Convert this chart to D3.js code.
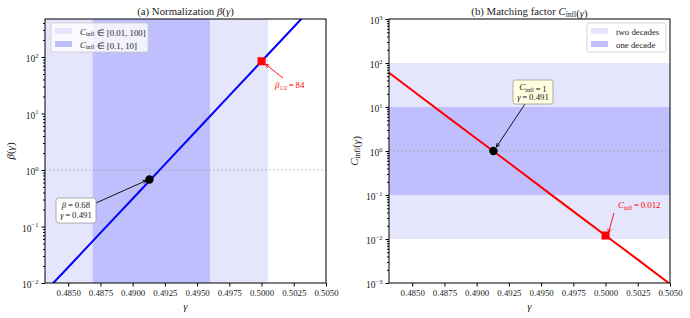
<!DOCTYPE html>
<html>
<head>
<meta charset="utf-8">
<script src="https://cdn.jsdelivr.net/npm/d3@7"></script>
<style>
  body { margin: 0; background: #fff; }
  svg, svg text, svg tspan { font-family: "Liberation Serif", "Times New Roman", serif !important; }
  svg text { fill: #222; }
</style>
</head>
<body>
<div id="chart"></div>
<script>
// data
var gammaGrid = [0.4832, 0.4850, 0.4875, 0.4900, 0.4925, 0.4950, 0.4975, 0.5000, 0.5025, 0.5050];
var betaVals  = [0.0070, 0.019, 0.077, 0.31, 1.26, 5.1, 20.7, 84, 340, 1380];
var cinflVals = [60, 24, 6.7, 1.9, 0.54, 0.151, 0.0425, 0.012, 0.0034, 0.00095];

var xTicks = [0.4850, 0.4875, 0.4900, 0.4925, 0.4950, 0.4975, 0.5000, 0.5025, 0.5050];
var betaTicks = [-2, -1, 0, 1, 2];
var cinflTicks = [-3, -2, -1, 0, 1, 2, 3];

var matchGamma = 0.4913, matchBeta = 0.68, matchC = 1;
var halfGamma = 0.5, halfBeta = 84, halfC = 0.012;

// gamma ranges where C_infl stays in [0.01,100] and [0.1,10]
var bandWide = [0.4820, 0.5005];
var bandNarrow = [0.4869, 0.4960];
// C_infl bands (right panel)
var cBandWide = [0.01, 100];
var cBandNarrow = [0.1, 10];

var lightBand = "#e5e5fb", darkBand = "#bfbffd";

var W = 690, H = 318;
var svg = d3.select("#chart").append("svg").attr("width", W).attr("height", H)
  .attr("font-family", "Liberation Serif, serif");
var defs = svg.append("defs");

var plotTop = 19, plotBottom = 283;
var gDomain = [0.4832, 0.5050];
var fs = 8.8; // small text size

function supLabel(sel, exp) {
  sel.text("");
  sel.append("tspan").text("10");
  sel.append("tspan").attr("dy", -4.5).style("font-size", "6.5px").text(exp < 0 ? "\u2212" + (-exp) : exp);
}

function drawPanel(opts) {
  var g = svg.append("g");
  var x = d3.scaleLinear().domain(gDomain).range([opts.left, opts.right]);
  var y = d3.scaleLog().domain(opts.yDomain).range([plotBottom, plotTop]);

  var clipId = "clip" + opts.id;
  defs.append("clipPath").attr("id", clipId).append("rect")
    .attr("x", opts.left).attr("y", plotTop)
    .attr("width", opts.right - opts.left).attr("height", plotBottom - plotTop);
  var plot = g.append("g").attr("clip-path", "url(#" + clipId + ")");

  opts.bands(plot, x, y);

  // reference line at 1
  plot.append("line")
    .attr("x1", opts.left).attr("x2", opts.right)
    .attr("y1", y(1)).attr("y2", y(1))
    .style("stroke", "#999").style("stroke-width", 0.8)
    .style("stroke-dasharray", "2,2").style("opacity", 0.7);

  var line = d3.line().x(function(d) { return x(d[0]); }).y(function(d) { return y(d[1]); });
  plot.append("path")
    .datum(d3.zip(gammaGrid, opts.values))
    .attr("d", line)
    .style("fill", "none").style("stroke", opts.color).style("stroke-width", 2);

  // axes
  var xAxis = d3.axisBottom(x).tickValues(xTicks).tickFormat(d3.format(".4f")).tickSize(3.5).tickPadding(3);
  var xa = g.append("g").attr("transform", "translate(0," + plotBottom + ")").call(xAxis)
    .attr("font-family", null).attr("font-size", null);
  xa.select(".domain").remove();
  xa.selectAll("text").style("font-size", fs + "px");

  var minor = [];
  var e0 = Math.round(Math.log10(opts.yDomain[0])), e1 = Math.ceil(Math.log10(opts.yDomain[1]));
  for (var e = e0; e < e1; e++) {
    for (var k = 2; k <= 9; k++) {
      var v = k * Math.pow(10, e);
      if (v <= opts.yDomain[1]) minor.push(v);
    }
  }
  var ya2 = g.append("g").attr("transform", "translate(" + opts.left + ",0)")
    .call(d3.axisLeft(y).tickValues(minor).tickFormat("").tickSize(2));
  ya2.select(".domain").remove();

  var ya = g.append("g").attr("transform", "translate(" + opts.left + ",0)")
    .call(d3.axisLeft(y).tickValues(opts.yTicks.map(function(p) { return Math.pow(10, p); })).tickSize(3.5).tickPadding(3))
    .attr("font-family", null).attr("font-size", null);
  ya.select(".domain").remove();
  ya.selectAll("text").style("font-size", "9.5px").attr("dy", "0.5em")
    .each(function(d) { supLabel(d3.select(this), Math.round(Math.log10(d))); });

  g.append("rect")
    .attr("x", opts.left).attr("y", plotTop)
    .attr("width", opts.right - opts.left).attr("height", plotBottom - plotTop)
    .style("fill", "none").style("stroke", "#000").style("stroke-width", 1);

  // titles and labels
  var title = g.append("text").attr("x", (opts.left + opts.right) / 2).attr("y", 15)
    .style("text-anchor", "middle").style("font-size", "10.8px");
  opts.title(title);

  g.append("text").attr("x", (opts.left + opts.right) / 2).attr("y", 310)
    .style("text-anchor", "middle").style("font-size", "11px").style("font-style", "italic").text("\u03b3");

  var yl = g.append("text")
    .attr("transform", "translate(" + opts.ylabelX + "," + ((plotTop + plotBottom) / 2) + ") rotate(-90)")
    .style("text-anchor", "middle").style("font-size", "11px");
  opts.ylabel(yl);

  return { g: g, x: x, y: y };
}

function cinflText(sel, size) {
  sel.append("tspan").style("font-style", "italic").text("C");
  sel.append("tspan").attr("dy", 1.5).style("font-size", (size * 0.7) + "px").text("infl");
  sel.append("tspan").attr("dy", -1.5).text("");
}

// ---------- Panel (a) ----------
var pa = drawPanel({
  id: "a", left: 45, right: 326, yDomain: [0.01, 470],
  yTicks: betaTicks, values: betaVals, color: "#0000ff", ylabelX: 14,
  bands: function(plot, x, y) {
    plot.append("rect").attr("x", x(bandWide[0])).attr("y", plotTop)
      .attr("width", x(bandWide[1]) - x(bandWide[0])).attr("height", plotBottom - plotTop).style("fill", lightBand);
    plot.append("rect").attr("x", x(bandNarrow[0])).attr("y", plotTop)
      .attr("width", x(bandNarrow[1]) - x(bandNarrow[0])).attr("height", plotBottom - plotTop).style("fill", darkBand);
  },
  title: function(t) {
    t.append("tspan").text("(a) Normalization ");
    t.append("tspan").style("font-style", "italic").text("\u03b2");
    t.append("tspan").text("(");
    t.append("tspan").style("font-style", "italic").text("\u03b3");
    t.append("tspan").text(")");
  },
  ylabel: function(t) {
    t.append("tspan").style("font-style", "italic").text("\u03b2");
    t.append("tspan").text("(");
    t.append("tspan").style("font-style", "italic").text("\u03b3");
    t.append("tspan").text(")");
  }
});

// ---------- Panel (b) ----------
var pb = drawPanel({
  id: "b", left: 389, right: 670, yDomain: [0.001, 1000],
  yTicks: cinflTicks, values: cinflVals, color: "#ff0000", ylabelX: 358,
  bands: function(plot, x, y) {
    plot.append("rect").attr("x", 389).attr("y", y(cBandWide[1]))
      .attr("width", 281).attr("height", y(cBandWide[0]) - y(cBandWide[1])).style("fill", lightBand);
    plot.append("rect").attr("x", 389).attr("y", y(cBandNarrow[1]))
      .attr("width", 281).attr("height", y(cBandNarrow[0]) - y(cBandNarrow[1])).style("fill", darkBand);
  },
  title: function(t) {
    t.append("tspan").text("(b) Matching factor ");
    cinflText(t, 10.8);
    t.append("tspan").text("(");
    t.append("tspan").style("font-style", "italic").text("\u03b3");
    t.append("tspan").text(")");
  },
  ylabel: function(t) {
    cinflText(t, 11);
    t.append("tspan").text("(");
    t.append("tspan").style("font-style", "italic").text("\u03b3");
    t.append("tspan").text(")");
  }
});

// ---------- markers & annotations ----------
function arrow(g, x1, y1, x2, y2, color) {
  g.append("line").attr("x1", x1).attr("y1", y1).attr("x2", x2).attr("y2", y2)
    .style("stroke", color).style("stroke-width", 0.9);
  var ang = Math.atan2(y2 - y1, x2 - x1), L = 4;
  var pts = [[x2, y2],
    [x2 - L * Math.cos(ang - 0.45), y2 - L * Math.sin(ang - 0.45)],
    [x2 - L * Math.cos(ang + 0.45), y2 - L * Math.sin(ang + 0.45)]];
  g.append("polyline").attr("points", [pts[1], pts[0], pts[2]].map(function(p) { return p.join(","); }).join(" "))
    .style("fill", "none").style("stroke", color).style("stroke-width", 0.9);
}

function noteBox(g, x, y, w, h, fill, lines) {
  g.append("rect").attr("x", x).attr("y", y).attr("width", w).attr("height", h)
    .attr("rx", 2.5).style("fill", fill).style("stroke", "#999").style("stroke-width", 0.8);
  lines.forEach(function(fn, i) {
    var t = g.append("text").attr("x", x + w / 2).attr("y", y + 10 + i * 10)
      .style("text-anchor", "middle").style("font-size", fs + "px");
    fn(t);
  });
}

// panel a
var ax = pa.x(matchGamma), ay = pa.y(matchBeta);
arrow(pa.g, 96, 203, ax - 3, ay + 1, "#000");
pa.g.append("circle").attr("cx", ax).attr("cy", ay).attr("r", 4.2).style("fill", "#000");
noteBox(pa.g, 56, 198, 40, 25, "#fff", [
  function(t) { t.append("tspan").style("font-style", "italic").text("\u03b2"); t.append("tspan").text("\u2009=\u2009" + matchBeta); },
  function(t) { t.append("tspan").style("font-style", "italic").text("\u03b3"); t.append("tspan").text("\u2009=\u2009" + d3.format(".3f")(matchGamma)); }
]);

var hx = pa.x(halfGamma), hy = pa.y(halfBeta);
arrow(pa.g, 283, 78, hx + 4, hy + 3, "#ff0000");
pa.g.append("rect").attr("x", hx - 4).attr("y", hy - 4).attr("width", 8).attr("height", 8).style("fill", "#ff0000");
var ht = pa.g.append("text").attr("x", 275).attr("y", 88).style("font-size", fs + "px");
ht.append("tspan").style("font-style", "italic").style("fill", "#ff0000").text("\u03b2");
ht.append("tspan").attr("dy", 2).style("font-size", "6px").style("fill", "#ff0000").text("1/2");
ht.append("tspan").attr("dy", -2).style("fill", "#ff0000").text("\u2009=\u2009" + halfBeta);

// panel b
var bx = pb.x(matchGamma), by = pb.y(matchC);
arrow(pb.g, 525, 104, bx + 3, by - 4, "#000");
pb.g.append("circle").attr("cx", bx).attr("cy", by).attr("r", 4.2).style("fill", "#000");
noteBox(pb.g, 513, 80, 40, 24, "#ffffe0", [
  function(t) { cinflText(t, fs); t.append("tspan").text("\u2009=\u2009" + matchC); },
  function(t) { t.append("tspan").style("font-style", "italic").text("\u03b3"); t.append("tspan").text("\u2009=\u2009" + d3.format(".3f")(matchGamma)); }
]);

var cx = pb.x(halfGamma), cy = pb.y(halfC);
arrow(pb.g, 614, 213, cx + 3, cy - 3, "#ff0000");
pb.g.append("rect").attr("x", cx - 4).attr("y", cy - 4).attr("width", 8).attr("height", 8).style("fill", "#ff0000");
var ct = pb.g.append("text").attr("x", 618).attr("y", 208).style("font-size", fs + "px");
ct.append("tspan").style("font-style", "italic").style("fill", "#ff0000").text("C");
ct.append("tspan").attr("dy", 2).style("font-size", "6px").style("fill", "#ff0000").text("infl");
ct.append("tspan").attr("dy", -2).style("fill", "#ff0000").text("\u2009=\u2009" + halfC);

// ---------- legends ----------
function legend(g, x, y, w, items) {
  g.append("rect").attr("x", x).attr("y", y).attr("width", w).attr("height", 29).attr("rx", 2)
    .style("fill", "#fff").style("fill-opacity", 0.8).style("stroke", "#ccc").style("stroke-width", 0.8);
  items.forEach(function(it, i) {
    g.append("rect").attr("x", x + 4).attr("y", y + 5 + i * 13).attr("width", 17).attr("height", 6).style("fill", it.color);
    var t = g.append("text").attr("x", x + 29).attr("y", y + 11.5 + i * 13).style("font-size", fs + "px");
    it.label(t);
  });
}

legend(pa.g, 51, 23, 97, [
  { color: lightBand, label: function(t) { cinflText(t, fs); t.append("tspan").text(" \u2208 [0.01, 100]"); } },
  { color: darkBand, label: function(t) { cinflText(t, fs); t.append("tspan").text(" \u2208 [0.1, 10]"); } }
]);

legend(pb.g, 587, 23, 79, [
  { color: lightBand, label: function(t) { t.text("two decades"); } },
  { color: darkBand, label: function(t) { t.text("one decade"); } }
]);
</script>
</body>
</html>
